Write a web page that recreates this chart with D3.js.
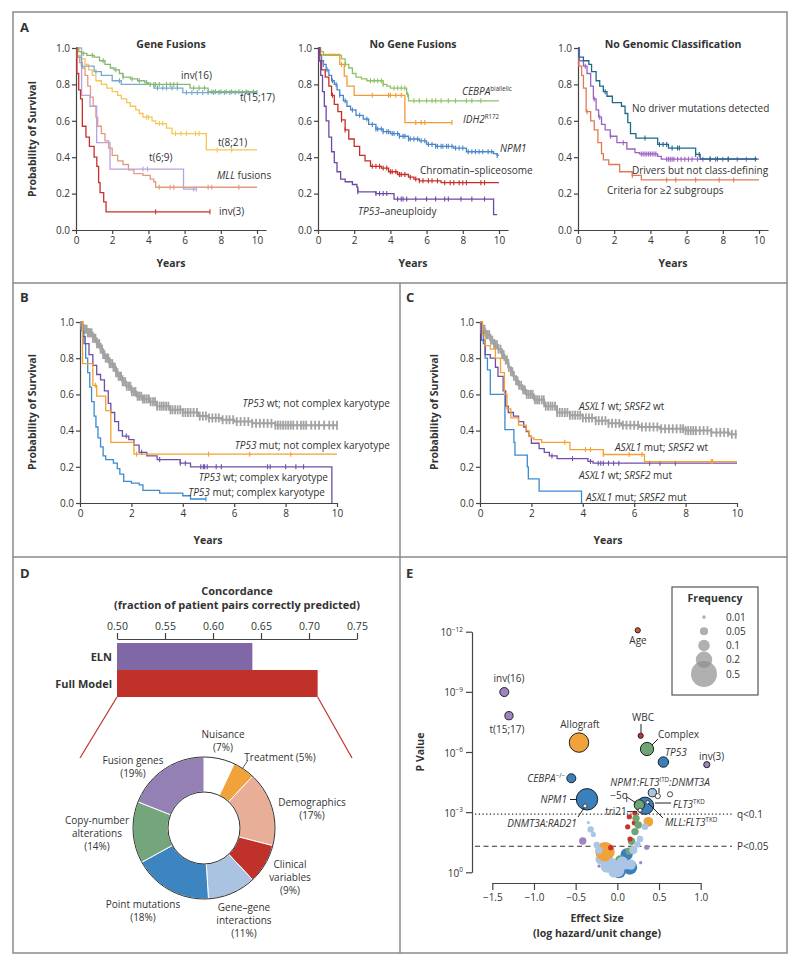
<!DOCTYPE html>
<html>
<head>
<meta charset="utf-8">
<script src="https://cdn.jsdelivr.net/npm/d3@7"></script>
<style>
  body { margin: 0; background: #fff; }
  svg text { font-family: "Open Sans", "Noto Sans", sans-serif; fill: #333; }
</style>
</head>
<body>
<svg id="fig" width="800" height="966"></svg>
<script>

// ---------- Panel A: gene fusions (steps are [years, survival]) ----------
const inv16Steps = [[0,1],[0.15,0.98],[0.3,0.97],[0.6,0.96],[1.0,0.95],[1.3,0.93],[1.6,0.91],[1.9,0.89],[2.1,0.88],[2.4,0.86],[2.6,0.84],[3.0,0.83],[3.4,0.82],[3.8,0.81],[4.0,0.80],[6.3,0.78],[7.3,0.76],[10,0.76]]
const inv16Censor = [0.4,0.9,1.5,2.2,2.6,3.1,3.5,3.9,4.1,4.3,4.4,4.6,5.0,5.2,5.4,5.6,6.5,6.8,7.1,7.5,7.7,8.0,8.3,8.6,9.0,9.4,9.8]
const t1517Steps = [[0,1],[0.05,0.95],[0.3,0.90],[1.0,0.87],[1.4,0.85],[2.0,0.82],[2.5,0.80],[4.3,0.78],[5.9,0.755],[10,0.755]]
const t1517Censor = [1.1,2.4,4.5,4.8,5.0,5.3,5.6,6.1,6.4,6.7,7.0,7.3,7.6,7.9,8.2,8.5,8.8,9.2,9.5,9.8,10]
const t821Steps = [[0,1],[0.1,0.96],[0.3,0.94],[0.5,0.91],[0.7,0.88],[0.9,0.85],[1.1,0.82],[1.4,0.80],[1.7,0.78],[2.0,0.76],[2.3,0.74],[2.5,0.72],[2.8,0.70],[3.0,0.68],[3.3,0.66],[3.5,0.64],[3.7,0.62],[4.2,0.60],[4.4,0.585],[5.0,0.56],[5.3,0.53],[7.2,0.44],[10,0.44]]
const t821Censor = [3.9,4.0,4.6,4.8,5.5,5.8,6.1,6.6,6.8,7.8,8.6]
const t69Steps = [[0,1],[0.31,0.74],[0.77,0.68],[1.14,0.48],[1.88,0.335],[5.94,0.225],[6.68,0.225]]
const t69Censor = [3.7,3.95,6.5,6.65]
const mllSteps = [[0,1],[0.05,0.95],[0.2,0.92],[0.35,0.89],[0.5,0.85],[0.65,0.79],[0.8,0.73],[0.95,0.68],[1.1,0.62],[1.2,0.57],[1.4,0.53],[1.6,0.49],[1.8,0.45],[2.0,0.41],[2.3,0.38],[2.6,0.36],[2.9,0.33],[3.2,0.31],[3.7,0.30],[4.1,0.28],[4.3,0.265],[4.4,0.235],[10,0.235]]
const mllCensor = [4.6,5.2,5.4,7.3,7.5,9.0]
const inv3Steps = [[0,1],[0.05,0.86],[0.15,0.77],[0.25,0.72],[0.35,0.57],[0.55,0.51],[0.74,0.46],[1.0,0.40],[1.15,0.35],[1.25,0.26],[1.33,0.205],[1.53,0.155],[1.66,0.10],[7.4,0.10]]
const inv3Censor = [4.4,7.4]

// ---------- Panel A: no gene fusions ----------
const cebpaSteps = [[0,1],[0.15,0.98],[0.3,0.96],[1.3,0.94],[1.5,0.91],[1.7,0.89],[1.9,0.86],[2.1,0.84],[2.4,0.83],[2.7,0.82],[3.6,0.80],[3.8,0.79],[4.0,0.78],[4.9,0.745],[5.0,0.71],[10,0.71]]
const cebpaCensor = [1.5,2.9,3.1,3.3,3.5,3.6,4.2,4.4,4.6,4.8,4.95,5.3,5.6,6.0,6.3,6.5,6.8,7.2,7.6,8.2,8.5,9.0]
const idh2Steps = [[0,1],[0.1,0.965],[1.2,0.91],[1.45,0.845],[1.6,0.79],[2.0,0.74],[4.8,0.59],[7.4,0.59]]
const idh2Censor = [1.3,3.0,3.9,4.0,4.3,4.6,5.4,5.7,5.9,7.4]
const npm1Steps = [[0,1],[0.1,0.96],[0.2,0.93],[0.3,0.91],[0.45,0.88],[0.6,0.85],[0.75,0.82],[0.9,0.80],[1.05,0.77],[1.2,0.74],[1.4,0.71],[1.6,0.68],[1.8,0.66],[2.1,0.63],[2.5,0.61],[2.8,0.58],[3.2,0.555],[3.6,0.54],[4.0,0.53],[4.5,0.515],[5.0,0.50],[5.6,0.49],[6.0,0.47],[6.5,0.46],[7.5,0.45],[8.2,0.43],[9.7,0.42],[9.9,0.41],[10,0.41]]
const npm1Censor = [0.3,0.5,0.8,1.0,1.2,1.5,1.9,2.3,2.7,3.0,3.2,3.3,3.5,3.6,3.8,3.9,4.1,4.2,4.4,4.5,4.7,4.8,5.0,5.1,5.3,5.5,5.7,5.9,6.1,6.3,6.5,6.6,6.8,6.9,7.1,7.2,7.4,7.6,7.8,8.0,8.3,8.5,8.7,8.9,9.1,9.4,9.6,9.9]
const chromSteps = [[0,1],[0.1,0.93],[0.2,0.88],[0.4,0.84],[0.6,0.79],[0.75,0.74],[0.9,0.69],[1.1,0.65],[1.3,0.605],[1.5,0.55],[1.7,0.50],[2.0,0.46],[2.3,0.41],[2.6,0.38],[2.9,0.35],[3.5,0.34],[3.9,0.32],[4.4,0.305],[5.0,0.29],[5.3,0.28],[5.6,0.27],[6.8,0.26],[10,0.26]]
const chromCensor = [0.8,1.3,1.5,3.0,3.2,3.4,3.6,3.8,4.0,4.1,4.3,4.5,4.6,4.8,5.1,5.4,5.6,5.8,6.1,6.3,6.6,7.0,7.3,7.5,7.8,8.0,8.2,9.0,9.2]
const tp53aSteps = [[0,1],[0.05,0.93],[0.15,0.85],[0.25,0.76],[0.35,0.68],[0.45,0.60],[0.6,0.51],[0.75,0.43],[0.9,0.37],[1.05,0.32],[1.25,0.28],[1.5,0.265],[1.9,0.25],[2.15,0.235],[2.2,0.21],[3.2,0.20],[4.2,0.17],[9.7,0.085],[9.9,0.085]]
const tp53aCensor = [2.2,3.2,3.4,3.6,3.8,4.4,4.6,4.7,4.9,5.4,6.0,6.5,7.0,7.2,7.9,8.5,9.2]

// ---------- Panel A: no genomic classification ----------
const noDrvSteps = [[0,1],[0.05,0.95],[0.3,0.93],[0.6,0.91],[0.75,0.87],[1.0,0.82],[1.2,0.79],[1.4,0.76],[1.6,0.735],[1.9,0.70],[2.4,0.68],[2.6,0.64],[2.75,0.59],[2.9,0.53],[3.2,0.505],[4.4,0.47],[5.0,0.45],[6.5,0.415],[6.75,0.39],[9.9,0.39]]
const noDrvCensor = [1.5,3.7,4.5,4.7,4.9,5.2,5.5,5.6,6.5,6.7,7.3,7.7,8.3,9.8]
const drvSteps = [[0,1],[0.08,0.93],[0.3,0.90],[0.5,0.86],[0.7,0.79],[0.85,0.72],[1.0,0.66],[1.14,0.62],[1.3,0.58],[1.5,0.55],[1.78,0.515],[2.15,0.48],[2.7,0.445],[3.15,0.425],[3.4,0.418],[4.4,0.404],[4.6,0.389],[10,0.389]]
const drvCensor = [0.4,0.9,1.2,1.8,2.5,3.5,3.6,3.7,3.8,3.9,4.0,4.1,4.2,4.3,4.9,5.0,5.1,5.2,5.3,5.5,5.7,5.9,6.1,6.3,6.6,6.9,7.3,7.6,8.0,8.3,8.8,9.3]
const multiSteps = [[0,1],[0.05,0.9],[0.2,0.85],[0.3,0.78],[0.45,0.65],[0.7,0.60],[0.9,0.55],[1.1,0.48],[1.3,0.42],[1.4,0.385],[1.7,0.36],[2.3,0.32],[3.0,0.30],[3.5,0.275],[10,0.275]]
const multiCensor = [0.5,3.0,4.9,5.4,6.5,7.8,8.6]

// ---------- Panel B: TP53 x complex karyotype ----------
const bWtNcSteps = [[0,1],[0.05,0.98],[0.15,0.96],[0.3,0.94],[0.5,0.91],[0.65,0.88],[0.8,0.85],[0.9,0.82],[1.0,0.80],[1.15,0.77],[1.3,0.75],[1.4,0.72],[1.5,0.70],[1.65,0.67],[1.8,0.645],[2.0,0.615],[2.2,0.59],[2.45,0.575],[2.7,0.56],[3.0,0.535],[3.5,0.515],[4.0,0.50],[4.6,0.48],[5.0,0.47],[5.5,0.46],[6.0,0.45],[6.7,0.44],[7.6,0.43],[10,0.43]]
const bWtNcCensor = [0.05,0.1,0.15,0.2,0.26,0.3,0.35,0.4,0.45,0.5,0.56,0.6,0.66,0.7,0.75,0.8,0.86,0.9,0.95,1.0,1.06,1.1,1.15,1.2,1.26,1.3,1.36,1.4,1.46,1.5,1.56,1.6,1.66,1.7,1.76,1.82,1.9,1.96,2.02,2.1,2.16,2.24,2.3,2.38,2.45,2.52,2.6,2.68,2.75,2.84,2.92,3.0,3.1,3.18,3.26,3.35,3.44,3.52,3.6,3.7,3.8,3.9,4.0,4.1,4.2,4.3,4.42,4.55,4.66,4.78,4.9,5.02,5.15,5.28,5.4,5.55,5.7,5.82,5.96,6.1,6.25,6.4,6.55,6.7,6.85,7.0,7.15,7.3,7.45,7.6,7.7,7.8,7.9,8.0,8.1,8.2,8.3,8.45,8.6,8.7,8.8,9.0,9.15,9.3,9.5,9.7,9.85,10]
const bMutNcSteps = [[0,1],[0.1,0.77],[0.5,0.65],[0.65,0.59],[1.0,0.51],[1.2,0.335],[2.1,0.27],[10,0.27]]
const bMutNcCensor = [0.6,2.2,5.0,6.6,8.2]
const bWtCSteps = [[0,1],[0.1,0.92],[0.2,0.88],[0.35,0.82],[0.5,0.76],[0.65,0.71],[0.8,0.68],[0.95,0.62],[1.1,0.55],[1.2,0.50],[1.35,0.45],[1.5,0.40],[1.65,0.37],[1.9,0.35],[2.1,0.32],[2.3,0.28],[2.6,0.26],[3.0,0.24],[3.9,0.22],[4.3,0.20],[9.8,0]]
const bWtCCensor = [1.8,2.4,3.1,3.9,4.1,4.7,4.8,4.85,4.95,5.3,5.5,7.3,7.4,8.0,8.4,8.7]
const bMutCSteps = [[0,1],[0.08,0.95],[0.15,0.88],[0.22,0.80],[0.3,0.72],[0.38,0.64],[0.45,0.56],[0.55,0.48],[0.62,0.42],[0.7,0.36],[0.8,0.31],[0.9,0.26],[1.0,0.24],[1.3,0.22],[1.45,0.19],[1.55,0.16],[1.7,0.12],[2.0,0.11],[2.3,0.10],[2.45,0.07],[3.1,0.055],[4.0,0.04],[4.3,0.022],[4.9,0.022]]
const bMutCCensor = [4.9]

// ---------- Panel C: ASXL1 x SRSF2 ----------
const cWtWtSteps = [[0,1],[0.05,0.96],[0.2,0.93],[0.4,0.90],[0.55,0.875],[0.7,0.85],[0.85,0.82],[0.95,0.79],[1.1,0.75],[1.2,0.725],[1.3,0.70],[1.4,0.675],[1.5,0.65],[1.65,0.625],[1.8,0.60],[2.1,0.57],[2.5,0.535],[3.0,0.50],[3.5,0.485],[4.0,0.47],[4.5,0.455],[5.0,0.44],[5.5,0.43],[6.2,0.42],[7.0,0.41],[8.0,0.40],[9.0,0.39],[9.7,0.38],[10,0.38]]
const cWtWtCensor = [0.05,0.12,0.18,0.25,0.3,0.36,0.42,0.48,0.55,0.6,0.66,0.72,0.8,0.86,0.92,1.0,1.05,1.12,1.2,1.26,1.32,1.4,1.46,1.52,1.6,1.68,1.75,1.82,1.9,1.98,2.05,2.14,2.22,2.3,2.4,2.48,2.56,2.65,2.74,2.82,2.92,3.0,3.1,3.2,3.3,3.4,3.5,3.6,3.7,3.8,3.9,4.0,4.12,4.24,4.36,4.5,4.62,4.75,4.88,5.0,5.14,5.28,5.42,5.56,5.7,5.85,6.0,6.15,6.3,6.45,6.6,6.75,6.9,7.05,7.2,7.35,7.5,7.65,7.8,7.9,8.0,8.1,8.2,8.3,8.4,8.55,8.7,8.85,9.0,9.2,9.35,9.5,9.65,9.8,9.95]
const cMutWtSteps = [[0,1],[0.1,0.93],[0.2,0.87],[0.4,0.85],[0.6,0.80],[0.8,0.72],[0.95,0.60],[1.05,0.52],[1.2,0.47],[1.5,0.43],[1.8,0.40],[1.9,0.37],[2.0,0.36],[2.1,0.35],[2.4,0.335],[3.5,0.295],[4.8,0.268],[6.4,0.229],[10,0.229]]
const cMutWtCensor = [3.3,4.1,4.3,4.8,5.8,6.3,9.0,9.05]
const cWtMutSteps = [[0,1],[0.05,0.9],[0.2,0.82],[0.4,0.80],[0.6,0.75],[0.7,0.70],[0.9,0.62],[1.0,0.535],[1.1,0.50],[1.3,0.48],[1.5,0.45],[1.7,0.42],[1.8,0.395],[1.9,0.37],[2.0,0.33],[2.3,0.30],[2.5,0.28],[2.7,0.26],[3.0,0.245],[4.2,0.23],[4.4,0.22],[10,0.22]]
const cWtMutCensor = [2.8,3.6,4.3,4.6,4.7,4.8,5.0,5.2,5.4,6.6,7.0,7.6]
const cMutMutSteps = [[0,1],[0.07,0.945],[0.13,0.88],[0.2,0.80],[0.29,0.735],[0.4,0.60],[0.97,0.405],[1.32,0.335],[1.36,0.265],[1.84,0.2],[1.88,0.133],[2.3,0.066],[3.95,0]]
const cMutMutCensor = []

// ---------- Panel D: concordance and variance components ----------
const concModels = ["ELN", "Full Model"]
const concValues = [0.641, 0.709]
const concTicks = [0.50, 0.55, 0.60, 0.65, 0.70, 0.75]
const compNames = ["Nuisance", "Treatment", "Demographics", "Clinical variables", "Gene–gene interactions", "Point mutations", "Copy-number alterations", "Fusion genes"]
const compShares = [7, 5, 17, 9, 11, 18, 14, 19]
const compColors = ["#ffffff", "#f0a33a", "#e8ae98", "#c0312a", "#a9c3e0", "#3d85c0", "#75a57a", "#9580b5"]

// ---------- Panel E: volcano (logP = -log10 P) ----------
const groupColors = { fusion: "#9b86c3", cna: "#6fa573", point: "#3a80bd", gene: "#aac6e4", clinical: "#c8322b", demog: "#d0612f", treat: "#f0a33a", none: "#ffffff" }
const namedEffects = [
  { name: "Age", x: 0.245, logP: 12.07, freq: 0.02, group: "demog" },
  { name: "inv(16)", x: -1.356, logP: 8.99, freq: 0.06, group: "fusion" },
  { name: "t(15;17)", x: -1.30, logP: 7.81, freq: 0.05, group: "fusion" },
  { name: "Allograft", x: -0.46, logP: 6.47, freq: 0.28, group: "treat" },
  { name: "WBC", x: 0.28, logP: 6.81, freq: 0.02, group: "clinical" },
  { name: "Complex", x: 0.356, logP: 6.15, freq: 0.13, group: "cna" },
  { name: "TP53", x: 0.552, logP: 5.5, freq: 0.08, group: "point" },
  { name: "inv(3)", x: 1.073, logP: 5.37, freq: 0.028, group: "fusion" },
  { name: "CEBPA", x: -0.552, logP: 4.69, freq: 0.06, group: "point" },
  { name: "NPM1", x: -0.364, logP: 3.64, freq: 0.34, group: "point" },
  { name: "DNMT3A:RAD21", x: -0.388, logP: 3.31, freq: 0.012, group: "none" },
  { name: "NPM1:FLT3:DNMT3A", x: 0.42, logP: 3.97, freq: 0.05, group: "gene" },
  { name: "", x: 0.485, logP: 3.8, freq: 0.02, group: "none" },
  { name: "", x: 0.632, logP: 3.89, freq: 0.02, group: "none" },
  { name: "-5q", x: 0.264, logP: 3.36, freq: 0.08, group: "cna" },
  { name: "FLT3TKD", x: 0.332, logP: 3.32, freq: 0.22, group: "point" },
  { name: "MLL:FLT3TKD", x: 0.364, logP: 3.49, freq: 0.008, group: "none" },
  { name: "tri21", x: 0.272, logP: 3.1, freq: 0.012, group: "none" }
]
const otherEffects = [
  { x: 0.15, logP: 0.25, freq: 0.16, group: "point" },
  { x: 0.02, logP: 0.05, freq: 0.14, group: "point" },
  { x: -0.128, logP: 0.28, freq: 0.11, group: "gene" },
  { x: 0.0, logP: 0.11, freq: 0.15, group: "gene" },
  { x: -0.02, logP: 0.2, freq: 0.14, group: "gene" },
  { x: 0.1, logP: 0.44, freq: 0.11, group: "gene" },
  { x: -0.2, logP: 0.65, freq: 0.08, group: "gene" },
  { x: 0.16, logP: 0.39, freq: 0.08, group: "gene" },
  { x: -0.044, logP: 0.0, freq: 0.08, group: "gene" },
  { x: 0.112, logP: 0.9, freq: 0.11, group: "point" },
  { x: 0.032, logP: 0.61, freq: 0.07, group: "cna" },
  { x: 0.14, logP: 1.05, freq: 0.04, group: "cna" },
  { x: 0.17, logP: 1.55, freq: 0.04, group: "cna" },
  { x: -0.148, logP: 1.03, freq: 0.28, group: "treat" },
  { x: 0.372, logP: 2.52, freq: 0.07, group: "treat" },
  { x: 0.212, logP: 2.94, freq: 0.02, group: "clinical" },
  { x: 0.144, logP: 2.77, freq: 0.02, group: "clinical" },
  { x: 0.204, logP: 2.47, freq: 0.02, group: "clinical" },
  { x: 0.124, logP: 2.27, freq: 0.02, group: "clinical" },
  { x: 0.152, logP: 1.66, freq: 0.02, group: "clinical" },
  { x: -0.08, logP: 1.23, freq: 0.02, group: "clinical" },
  { x: 0.224, logP: 2.69, freq: 0.04, group: "cna" },
  { x: 0.212, logP: 2.03, freq: 0.04, group: "cna" },
  { x: 0.252, logP: 2.36, freq: 0.04, group: "cna" },
  { x: -0.415, logP: 1.56, freq: 0.04, group: "fusion" },
  { x: 0.352, logP: 1.25, freq: 0.02, group: "fusion" },
  { x: -0.22, logP: 0.31, freq: 0.008, group: "fusion" },
  { x: 0.28, logP: 0.48, freq: 0.008, group: "fusion" },
  { x: -0.348, logP: 2.48, freq: 0.008, group: "gene" },
  { x: -0.32, logP: 2.14, freq: 0.03, group: "gene" },
  { x: -0.288, logP: 1.89, freq: 0.02, group: "gene" },
  { x: -0.248, logP: 1.36, freq: 0.03, group: "gene" },
  { x: -0.22, logP: 1.1, freq: 0.04, group: "gene" },
  { x: 0.332, logP: 2.27, freq: 0.03, group: "gene" },
  { x: 0.272, logP: 1.66, freq: 0.03, group: "gene" },
  { x: 0.24, logP: 1.39, freq: 0.03, group: "gene" },
  { x: 0.192, logP: 1.11, freq: 0.05, group: "gene" },
  { x: 0.06, logP: 0.5, freq: 0.1, group: "gene" },
  { x: -0.06, logP: 0.45, freq: 0.08, group: "gene" }
]
const freqLegend = [0.01, 0.05, 0.1, 0.2, 0.5]

const svg = d3.select("#fig")
const ink = "#333"

// 1. helpers ---------------------------------------------------------
function rich(g, x, y, parts, anchor, size, weight) {
  size = size || 10
  const t = g.append("text").attr("x", x).attr("y", y)
    .attr("text-anchor", anchor || "start").attr("font-size", size)
    .attr("font-weight", weight || "normal")
  let up = false
  parts.forEach(p => {
    const [str, st] = typeof p === "string" ? [p, ""] : p
    const ts = t.append("tspan").text(str)
    if (st.includes("i")) ts.attr("font-style", "italic")
    if (st.includes("s")) {
      ts.attr("font-size", size * 0.62).attr("dy", up ? 0 : -size * 0.4)
      up = true
    } else if (up) {
      ts.attr("dy", size * 0.4)
      up = false
    }
  })
  return t
}

function survAt(steps, t) {
  let s = 1
  steps.forEach(d => { if (d[0] <= t) s = d[1] })
  return s
}

function drawCurve(g, x, y, steps, censor, color, tick, weight) {
  const line = d3.line().curve(d3.curveStepAfter).x(d => x(d[0])).y(d => y(d[1]))
  g.append("path").attr("d", line(steps)).attr("fill", "none")
    .attr("stroke", color).attr("stroke-width", weight || 1.3)
  g.selectAll(null).data(censor).enter().append("line")
    .attr("x1", d => x(d)).attr("x2", d => x(d))
    .attr("y1", d => y(survAt(steps, d)) - tick / 2)
    .attr("y2", d => y(survAt(steps, d)) + tick / 2)
    .attr("stroke", color).attr("stroke-width", weight ? weight * 0.9 : 1.1)
}

function styleAxis(a) {
  a.select(".domain").attr("stroke", "#444").attr("stroke-width", 1.2)
  a.selectAll(".tick line").attr("stroke", "#444").attr("stroke-width", 1.2)
  a.selectAll("text").attr("font-size", 10).attr("fill", ink)
    .attr("font-family", '"Open Sans", sans-serif')
}

function kmAxes(g, x, y) {
  const ax = g.append("g").attr("transform", `translate(0,${y(0)})`)
    .call(d3.axisBottom(x).tickValues([0, 2, 4, 6, 8, 10]).tickSize(4).tickSizeOuter(0).tickPadding(3))
  styleAxis(ax)
  const ay = g.append("g").attr("transform", `translate(${x(0)},0)`)
    .call(d3.axisLeft(y).tickValues([0, 0.2, 0.4, 0.6, 0.8, 1]).tickFormat(d3.format(".1f")).tickSize(4).tickSizeOuter(0).tickPadding(2))
  styleAxis(ay)
}

function yTitle(g, x, yc) {
  g.append("text").attr("transform", `translate(${x},${yc}) rotate(-90)`)
    .attr("text-anchor", "middle").attr("font-size", 10.5).attr("font-weight", "bold")
    .text("Probability of Survival")
}

function boldText(g, x, y, str, size, anchor) {
  return g.append("text").attr("x", x).attr("y", y).attr("text-anchor", anchor || "middle")
    .attr("font-size", size || 10.5).attr("font-weight", "bold").text(str)
}

// 2. frame ------------------------------------------------------------
const frame = svg.append("g").attr("stroke", "#8a8a8a").attr("stroke-width", 1.5).attr("fill", "none")
frame.append("rect").attr("x", 13).attr("y", 12).attr("width", 774).attr("height", 941)
frame.append("line").attr("x1", 13).attr("x2", 787).attr("y1", 283).attr("y2", 283)
frame.append("line").attr("x1", 13).attr("x2", 787).attr("y1", 557).attr("y2", 557)
frame.append("line").attr("x1", 400).attr("x2", 400).attr("y1", 283).attr("y2", 953)

boldText(svg, 20, 32, "A", 13, "start")
boldText(svg, 20, 302, "B", 13, "start")
boldText(svg, 406, 302, "C", 13, "start")
boldText(svg, 20, 578, "D", 13, "start")
boldText(svg, 406, 578, "E", 13, "start")

// 3. panel A ----------------------------------------------------------
const aY = d3.scaleLinear().domain([0, 1]).range([230, 48])
const pxYear = 18.1
const aX = [76, 318, 578].map(x0 => d3.scaleLinear().domain([0, 10.5]).range([x0, x0 + 10.5 * pxYear]))
const aTitles = ["Gene Fusions", "No Gene Fusions", "No Genomic Classification"]

aX.forEach((x, i) => {
  const g = svg.append("g")
  kmAxes(g, x, aY)
  boldText(g, (x(0) + x(10.5)) / 2, 48, aTitles[i], 10.5)
  boldText(g, (x(0) + x(10.5)) / 2, 267, "Years", 10.5)
})
yTitle(svg, 36, 139)

const a1 = svg.append("g")
drawCurve(a1, aX[0], aY, t821Steps, t821Censor, "#f6c555", 5)
drawCurve(a1, aX[0], aY, mllSteps, mllCensor, "#e29a80", 5)
drawCurve(a1, aX[0], aY, t69Steps, t69Censor, "#b9a2dc", 5)
drawCurve(a1, aX[0], aY, t1517Steps, t1517Censor, "#77a9cf", 5)
drawCurve(a1, aX[0], aY, inv16Steps, inv16Censor, "#85b76f", 5)
drawCurve(a1, aX[0], aY, inv3Steps, inv3Censor, "#c8302b", 5)
rich(a1, 181, 79, ["inv(16)"])
rich(a1, 240, 101, ["t(15;17)"])
rich(a1, 218, 146, ["t(8;21)"])
rich(a1, 149, 161, ["t(6;9)"])
rich(a1, 217, 179, [["MLL", "i"], " fusions"])
rich(a1, 219, 215, ["inv(3)"])

const a2 = svg.append("g")
drawCurve(a2, aX[1], aY, cebpaSteps, cebpaCensor, "#8fc264", 5)
drawCurve(a2, aX[1], aY, idh2Steps, idh2Censor, "#f49a32", 5)
drawCurve(a2, aX[1], aY, npm1Steps, npm1Censor, "#4a87c9", 5)
drawCurve(a2, aX[1], aY, chromSteps, chromCensor, "#c42f26", 5)
drawCurve(a2, aX[1], aY, tp53aSteps, tp53aCensor, "#6b4aa6", 5)
rich(a2, 462, 95, [["CEBPA", "i"], ["biallelic", "s"]])
rich(a2, 463, 123, [["IDH2", "i"], ["R172", "s"]])
rich(a2, 500, 152, [["NPM1", "i"]])
rich(a2, 420, 174, ["Chromatin–spliceosome"])
rich(a2, 358, 215, [["TP53", "i"], "–aneuploidy"])

const a3 = svg.append("g")
drawCurve(a3, aX[2], aY, multiSteps, multiCensor, "#e07a55", 5)
drawCurve(a3, aX[2], aY, drvSteps, drvCensor, "#9c63c4", 5)
drawCurve(a3, aX[2], aY, noDrvSteps, noDrvCensor, "#1f6a8a", 5)
rich(a3, 632, 112, ["No driver mutations detected"])
rich(a3, 632, 174, ["Drivers but not class-defining"])
rich(a3, 607, 194, ["Criteria for ≥2 subgroups"])

// 4. panels B and C ---------------------------------------------------
const bcY = d3.scaleLinear().domain([0, 1]).range([503, 322])
const bX = d3.scaleLinear().domain([0, 10]).range([80, 337])
const cX = d3.scaleLinear().domain([0, 10]).range([480, 737])

const b = svg.append("g")
kmAxes(b, bX, bcY)
yTitle(b, 36, 412)
boldText(b, 208, 544, "Years", 10.5)
drawCurve(b, bX, bcY, bWtNcSteps, bWtNcCensor, "#a2a2a2", 9, 2)
drawCurve(b, bX, bcY, bMutCSteps, bMutCCensor, "#3b8bd1", 5)
drawCurve(b, bX, bcY, bWtCSteps, bWtCCensor, "#6f4ea8", 5)
drawCurve(b, bX, bcY, bMutNcSteps, bMutNcCensor, "#f5a030", 5)
rich(b, 390, 407, [["TP53", "i"], " wt; not complex karyotype"], "end")
rich(b, 390, 449, [["TP53", "i"], " mut; not complex karyotype"], "end")
rich(b, 328, 481, [["TP53", "i"], " wt; complex karyotype"], "end")
rich(b, 325, 496, [["TP53", "i"], " mut; complex karyotype"], "end")

const c = svg.append("g")
kmAxes(c, cX, bcY)
yTitle(c, 438, 412)
boldText(c, 608, 544, "Years", 10.5)
drawCurve(c, cX, bcY, cWtWtSteps, cWtWtCensor, "#a2a2a2", 9, 2)
drawCurve(c, cX, bcY, cMutMutSteps, cMutMutCensor, "#3b8bd1", 5)
drawCurve(c, cX, bcY, cWtMutSteps, cWtMutCensor, "#6f4ea8", 5)
drawCurve(c, cX, bcY, cMutWtSteps, cMutWtCensor, "#f5a030", 5)
rich(c, 579, 410, [["ASXL1", "i"], " wt; ", ["SRSF2", "i"], " wt"])
rich(c, 615, 451, [["ASXL1", "i"], " mut; ", ["SRSF2", "i"], " wt"])
rich(c, 579, 479, [["ASXL1", "i"], " wt; ", ["SRSF2", "i"], " mut"])
rich(c, 586, 501, [["ASXL1", "i"], " mut; ", ["SRSF2", "i"], " mut"])

// 5. panel D ----------------------------------------------------------
const d = svg.append("g")
const concX = d3.scaleLinear().domain([0.5, 0.75]).range([117, 357])
const concY = d3.scaleBand().domain(concModels).range([643, 697])
boldText(d, 237, 595, "Concordance", 11)
boldText(d, 237, 609, "(fraction of patient pairs correctly predicted)", 11)
const dAx = d.append("g").attr("transform", "translate(0,639)")
  .call(d3.axisTop(concX).tickValues(concTicks).tickFormat(d3.format(".2f")).tickSize(6).tickSizeOuter(0).tickPadding(3))
styleAxis(dAx)
dAx.selectAll("text").attr("font-size", 10.5)

d.selectAll(".bar").data(concModels).enter().append("rect")
  .attr("x", concX(0.5)).attr("y", m => concY(m))
  .attr("width", (m, i) => concX(concValues[i]) - concX(0.5))
  .attr("height", concY.bandwidth())
  .attr("fill", (m, i) => i === 0 ? "#8068a6" : "#c0312a")
d.selectAll(".blab").data(concModels).enter().append("text")
  .attr("x", 112).attr("y", m => concY(m) + concY.bandwidth() / 2 + 4)
  .attr("text-anchor", "end").attr("font-size", 11).attr("font-weight", "bold").text(m => m)

// lines fanning out from the full model bar to the donut
const donutC = [204, 828]
d.append("line").attr("x1", concX(0.5)).attr("y1", 697).attr("x2", 80).attr("y2", 758)
  .attr("stroke", "#c0312a").attr("stroke-width", 1.2)
d.append("line").attr("x1", concX(concValues[1])).attr("y1", 697).attr("x2", 352).attr("y2", 758)
  .attr("stroke", "#c0312a").attr("stroke-width", 1.2)

const pie = d3.pie().sort(null).value(v => v)
const arc = d3.arc().innerRadius(36).outerRadius(71)
const donut = d.append("g").attr("transform", `translate(${donutC[0]},${donutC[1]})`)
donut.selectAll("path").data(pie(compShares)).enter().append("path")
  .attr("d", arc).attr("fill", (s, i) => compColors[i])
  .attr("stroke", "#fff").attr("stroke-width", 1)
donut.append("circle").attr("r", 71).attr("fill", "none").attr("stroke", "#333").attr("stroke-width", 1)
donut.append("circle").attr("r", 36).attr("fill", "none").attr("stroke", "#333").attr("stroke-width", 1)

const donutLabels = [
  [["Nuisance", "(7%)"], 223, 738],
  [["Treatment (5%)"], 280, 761],
  [["Demographics", "(17%)"], 312, 806],
  [["Clinical", "variables", "(9%)"], 290, 868],
  [["Gene–gene", "interactions", "(11%)"], 244, 911],
  [["Point mutations", "(18%)"], 143, 908],
  [["Copy-number", "alterations", "(14%)"], 97, 824],
  [["Fusion genes", "(19%)"], 133, 764]
]
donutLabels.forEach(([lines, x, y]) => {
  lines.forEach((s, k) => {
    d.append("text").attr("x", x).attr("y", y + k * 13).attr("text-anchor", "middle")
      .attr("font-size", 10).attr("fill", "#444").text(s)
  })
})
d.append("line").attr("x1", 248).attr("y1", 760).attr("x2", 242.5).attr("y2", 768.5)
  .attr("stroke", "#333").attr("stroke-width", 0.8)

// 6. panel E ----------------------------------------------------------
const e = svg.append("g")
const eX = d3.scaleLinear().domain([-1.5, 1.0]).range([492.3, 700.7])
const eY = d3.scaleLinear().domain([0, 12]).range([872.3, 631.7])
const eR = d3.scaleSqrt().domain([0, 0.5]).range([0, 13])

const exAx = e.append("g").attr("transform", "translate(0,883)")
  .call(d3.axisBottom(eX).tickValues([-1.5, -1.0, -0.5, 0, 0.5, 1.0]).tickFormat(v => d3.format(".1f")(v).replace("-", "−")).tickSize(7).tickSizeOuter(0).tickPadding(4))
styleAxis(exAx)
const eyAx = e.append("g").attr("transform", "translate(472,0)")
  .call(d3.axisLeft(eY).tickValues([0, 3, 6, 9, 12]).tickFormat("").tickSize(6).tickSizeOuter(0))
styleAxis(eyAx)
eyAx.selectAll(".tick").each(function (v) {
  const t = d3.select(this).append("text").attr("x", -9).attr("y", 4).attr("text-anchor", "end")
    .attr("font-size", 10).attr("fill", ink)
  t.append("tspan").text("10")
  t.append("tspan").attr("dy", -4.5).attr("font-size", 6.5).text(v === 0 ? "0" : "−" + v)
})
e.append("text").attr("transform", "translate(424,752) rotate(-90)").attr("text-anchor", "middle")
  .attr("font-size", 10.5).attr("font-weight", "bold").text("P Value")
boldText(e, 597, 922, "Effect Size", 10.5)
boldText(e, 597, 937, "(log hazard/unit change)", 10.5)

// significance thresholds
e.append("line").attr("x1", 475).attr("x2", 732).attr("y1", eY(2.9)).attr("y2", eY(2.9))
  .attr("stroke", "#333").attr("stroke-width", 1.2).attr("stroke-dasharray", "1.3,2.4")
e.append("line").attr("x1", 475).attr("x2", 732).attr("y1", eY(1.3)).attr("y2", eY(1.3))
  .attr("stroke", "#333").attr("stroke-width", 1.2).attr("stroke-dasharray", "5,3.5")
e.append("text").attr("x", 737).attr("y", eY(2.9) + 4).attr("font-size", 10).text("q<0.1")
e.append("text").attr("x", 737).attr("y", eY(1.3) + 4).attr("font-size", 10).text("P<0.05")

// background cloud, in listed order (dark blue sits behind light blue)
e.selectAll(".cloud").data(otherEffects).enter().append("circle")
  .attr("cx", p => eX(p.x)).attr("cy", p => eY(p.logP)).attr("r", p => eR(p.freq))
  .attr("fill", p => groupColors[p.group])

const named = namedEffects.slice().sort((p, q) => q.freq - p.freq)
e.selectAll(".named").data(named).enter().append("circle")
  .attr("cx", p => eX(p.x)).attr("cy", p => eY(p.logP)).attr("r", p => Math.max(eR(p.freq), 1.8))
  .attr("fill", p => groupColors[p.group])
  .attr("stroke", "#222").attr("stroke-width", p => p.group === "none" ? 0.8 : 1)

// labels and leader lines
const lead = (x1, y1, x2, y2) => e.append("line").attr("x1", x1).attr("y1", y1).attr("x2", x2).attr("y2", y2)
  .attr("stroke", "#222").attr("stroke-width", 1)
rich(e, 638, 644, ["Age"], "middle")
rich(e, 509, 682, ["inv(16)"], "middle")
rich(e, 507, 733, ["t(15;17)"], "middle")
rich(e, 580, 728, ["Allograft"], "middle")
rich(e, 643, 721, ["WBC"], "middle")
lead(641, 724, 641, 733)
rich(e, 658, 738, ["Complex"])
lead(652, 745, 658, 739)
rich(e, 665, 756, [["TP53", "i"]])
rich(e, 699, 760, ["inv(3)"])
rich(e, 565, 782, [["CEBPA", "i"], ["−/−", "s"]], "end")
rich(e, 567, 803, [["NPM1", "i"]], "end")
lead(570, 799.5, 577, 799.5)
rich(e, 542, 827, [["DNMT3A:RAD21", "i"]], "middle")
lead(578, 817, 584, 808)
rich(e, 660, 786, [["NPM1:FLT3", "i"], ["ITD", "s"], [":DNMT3A", "i"]], "middle")
lead(659, 788, 659, 793)
rich(e, 619, 799, ["−5q"], "middle")
lead(627, 797, 636, 803)
rich(e, 673, 808, [["FLT3", "i"], ["TKD", "s"]])
lead(655, 803, 671, 803)
rich(e, 665, 826, [["MLL:FLT3", "i"], ["TKD", "s"]])
lead(648, 803, 663, 818)
rich(e, 616, 815, ["tri21"], "middle")
lead(627, 811.7, 637, 811.7)

// frequency legend
const leg = e.append("g")
leg.append("rect").attr("x", 672).attr("y", 587).attr("width", 86).attr("height", 108)
  .attr("fill", "#fff").attr("stroke", "#555").attr("stroke-width", 1.2)
boldText(leg, 715, 602, "Frequency", 10.5)
const legY = d3.scalePoint().domain(freqLegend).range([617, 674])
leg.selectAll(".lc").data(freqLegend).enter().append("circle")
  .attr("cx", 704).attr("cy", f => legY(f)).attr("r", f => eR(f))
  .attr("fill", "#8f8f8f").attr("fill-opacity", 0.7)
leg.selectAll(".lt").data(freqLegend).enter().append("text")
  .attr("x", 726).attr("y", f => legY(f) + 3.5).attr("font-size", 10).text(f => f)

</script>
</body>
</html>
